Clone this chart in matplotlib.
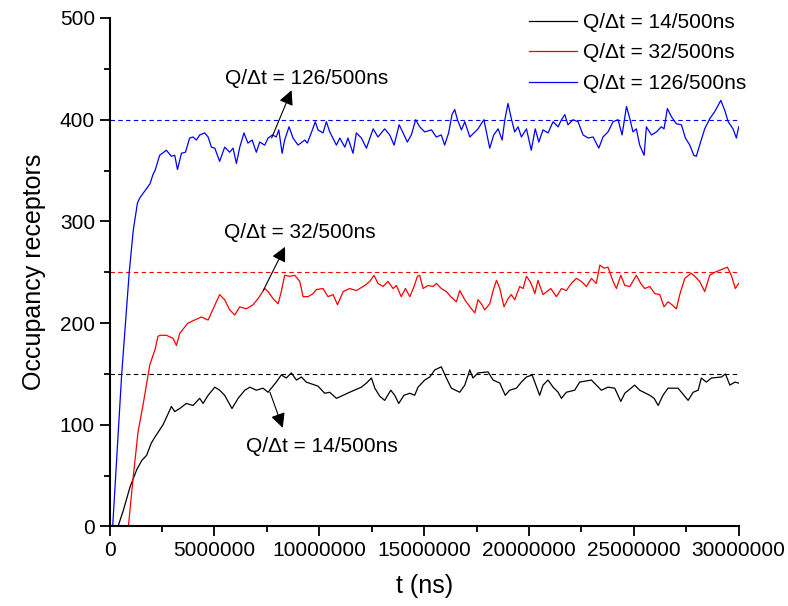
import matplotlib
matplotlib.use("Agg")
import matplotlib.pyplot as plt
from matplotlib.ticker import MultipleLocator, FuncFormatter
import numpy as np

# ---------------------------------------------------------
# Data (time in units of 1e6 ns)
# ---------------------------------------------------------
t_black = [0, 0.18, 0.42, 0.66, 0.98, 1.30, 1.54, 1.77, 1.99, 2.23, 2.55, 2.73, 2.95, 3.11, 3.35,
           3.66, 3.98, 4.30, 4.46, 4.70, 5.02, 5.25, 5.49, 5.84, 6.13, 6.45, 6.69, 7.00, 7.32, 7.56,
           7.95, 8.19, 8.43, 8.67, 8.91, 9.15, 9.38, 9.94, 10.26, 10.50, 10.82, 11.14, 11.45, 12.01,
           12.25, 12.49, 12.65, 12.89, 13.12, 13.41, 13.60, 13.79, 14.04, 14.32, 14.55, 14.71, 15.03,
           15.27, 15.51, 15.82, 16.06, 16.30, 16.70, 16.94, 17.18, 17.33, 17.57, 18.05, 18.29, 18.61,
           18.87, 19.08, 19.40, 19.64, 19.88, 20.15, 20.51, 20.67, 20.91, 21.15, 21.39, 21.55, 21.78,
           22.18, 22.42, 22.98, 23.45, 23.77, 24.09, 24.38, 24.57, 25.04, 25.28, 25.76, 25.97, 26.16,
           26.39, 26.63, 27.11, 27.59, 27.83, 28.07, 28.22, 28.46, 28.70, 29.18, 29.37, 29.58, 29.82,
           30.00]
n_black = [0, 0, 1, 16, 39, 56, 65, 70, 82, 90, 100, 108, 118, 113, 116,
           121, 119, 126, 121, 129, 137, 134, 129, 116, 126, 134, 137, 134, 136, 132,
           142, 149, 146, 151, 144, 147, 142, 138, 131, 132, 126, 129, 132, 137,
           141, 146, 136, 128, 124, 134, 129, 121, 129, 131, 129, 137, 144,
           147, 154, 157, 146, 136, 132, 139, 154, 146, 151, 152, 144, 141,
           129, 134, 136, 142, 147, 149, 129, 139, 144, 137, 132, 126, 132,
           134, 142, 144, 134, 137, 136, 123, 131, 139, 134, 129, 126, 119,
           129, 136, 136, 124, 132, 134, 146, 142, 146, 147, 150, 139, 142,
           141]

t_red = [0, 0.90, 1.13, 1.36, 1.61, 1.92, 2.17, 2.31, 2.41, 2.71, 3.03, 3.19, 3.35, 3.74, 4.06,
         4.38, 4.70, 4.94, 5.25, 5.49, 5.73, 5.97, 6.21, 6.52, 6.84, 7.08, 7.40, 7.56, 7.80, 8.04,
         8.19, 8.35, 8.59, 8.83, 9.07, 9.23, 9.47, 9.70, 9.86, 10.18, 10.42, 10.66, 10.87, 11.14,
         11.45, 11.77, 12.17, 12.41, 12.61, 12.80, 13.04, 13.28, 13.52, 13.68, 13.91, 14.11, 14.32,
         14.52, 14.68, 14.79, 14.95, 15.19, 15.43, 15.59, 15.82, 16.06, 16.27, 16.54, 16.70, 16.94,
         17.18, 17.42, 17.57, 17.73, 17.89, 18.13, 18.29, 18.45, 18.61, 18.81, 19.00, 19.16, 19.32,
         19.56, 19.72, 19.88, 20.05, 20.20, 20.28, 20.43, 20.67, 21.04, 21.31, 21.55, 21.78, 22.02,
         22.26, 22.50, 22.74, 22.98, 23.21, 23.38, 23.58, 23.77, 24.01, 24.17, 24.38, 24.57, 24.81,
         25.12, 25.33, 25.52, 25.76, 26.00, 26.24, 26.44, 26.63, 26.82, 27.03, 27.19, 27.43, 27.74,
         27.91, 28.14, 28.38, 28.62, 28.86, 29.10, 29.46, 29.65, 29.84, 30.00]
n_red = [0, 0, 49, 93, 121, 159, 174, 187, 188, 188, 185, 178, 190, 200, 203,
         206, 203, 214, 228, 223, 213, 208, 216, 214, 218, 224, 234, 231, 224, 219,
         231, 247, 246, 247, 241, 226, 226, 229, 233, 234, 226, 228, 218, 231,
         234, 232, 237, 241, 247, 239, 236, 241, 234, 237, 226, 234, 226,
         236, 246, 247, 234, 237, 236, 239, 234, 231, 226, 221, 232, 223,
         216, 210, 223, 219, 213, 219, 232, 242, 234, 216, 224, 228, 223,
         236, 234, 246, 241, 234, 229, 242, 228, 234, 226, 234, 232, 239,
         244, 241, 236, 244, 239, 257, 254, 255, 241, 234, 247, 237, 236,
         247, 239, 234, 236, 229, 228, 216, 221, 218, 214, 228, 244, 249,
         246, 241, 231, 247, 250, 252, 255, 247, 234, 239]

t_blue = [0, 0.15, 0.58, 0.94, 1.13, 1.33, 1.44, 1.93, 2.07, 2.17, 2.39, 2.71, 2.95, 3.11, 3.24,
          3.43, 3.62, 3.82, 3.98, 4.14, 4.30, 4.54, 4.70, 4.86, 5.02, 5.25, 5.49, 5.73, 5.89, 6.05,
          6.21, 6.41, 6.60, 6.80, 7.00, 7.16, 7.40, 7.56, 7.77, 7.95, 8.07, 8.23, 8.35, 8.56, 8.75,
          8.99, 9.31, 9.43, 9.62, 9.81, 9.94, 10.18, 10.34, 10.50, 10.82, 10.98, 11.22, 11.37, 11.61,
          11.77, 12.01, 12.25, 12.57, 12.80, 13.12, 13.36, 13.57, 13.81, 14.00, 14.20, 14.39, 14.60,
          14.79, 15.03, 15.35, 15.58, 15.82, 15.98, 16.17, 16.33, 16.46, 16.59, 16.78, 16.94, 17.18,
          17.42, 17.57, 17.85, 17.97, 18.13, 18.32, 18.53, 18.72, 18.85, 19.00, 19.16, 19.32, 19.48,
          19.64, 19.88, 20.11, 20.30, 20.47, 20.67, 20.91, 21.15, 21.39, 21.55, 21.71, 21.86, 22.10,
          22.34, 22.58, 22.82, 23.06, 23.33, 23.53, 23.77, 24.01, 24.25, 24.44, 24.65, 24.81, 24.96,
          25.12, 25.28, 25.49, 25.60, 25.84, 26.08, 26.31, 26.44, 26.60, 26.79, 27.03, 27.27, 27.46,
          27.67, 27.86, 27.98, 28.14, 28.38, 28.62, 28.86, 29.15, 29.34, 29.50, 29.73, 29.89, 30.00]
n_blue = [0, 0, 150, 250, 291, 318, 323, 337, 346, 350, 365, 370, 364, 365, 351,
          367, 368, 382, 383, 380, 385, 387, 383, 373, 372, 359, 373, 368, 372, 357,
          373, 387, 377, 380, 368, 378, 375, 382, 385, 383, 390, 367, 380, 393, 382,
          375, 380, 377, 387, 398, 390, 387, 398, 388, 375, 382, 373, 382, 367,
          387, 382, 372, 391, 383, 391, 385, 375, 395, 387, 378, 385, 400,
          393, 388, 390, 383, 385, 375, 387, 405, 410, 400, 390, 398, 383,
          388, 391, 400, 388, 372, 385, 391, 380, 400, 416, 401, 388, 393,
          383, 391, 370, 391, 378, 390, 387, 398, 393, 400, 405, 395, 400,
          398, 385, 382, 383, 372, 383, 388, 398, 400, 385, 413, 401, 388,
          391, 375, 365, 393, 385, 388, 393, 391, 411, 403, 396, 395, 382,
          375, 365, 364, 375, 391, 401, 408, 419, 409, 398, 391, 382, 393]

SERIES = [
    ("Q/\u0394t = 14/500ns", t_black, n_black, "black", 150),
    ("Q/\u0394t = 32/500ns", t_red, n_red, "#ff0000", 250),
    ("Q/\u0394t = 126/500ns", t_blue, n_blue, "#0000ff", 400),
]

plt.rcParams["font.family"] = ["Liberation Sans", "DejaVu Sans"]

fig = plt.figure(figsize=(7.88, 6.06), dpi=100)
ax = fig.add_axes([0.139, 0.1312, 0.7984, 0.8391])

for label, t, n, color, level in SERIES:
    ax.plot(np.array(t) * 1e6, n, color=color, lw=0.9, label=label)
    ax.plot([0, 30e6], [level, level], color=color, lw=0.8, ls=(0, (4, 3)))

ax.set_xlim(0, 30e6)
ax.set_ylim(0, 500)
ax.xaxis.set_major_locator(MultipleLocator(5e6))
ax.xaxis.set_minor_locator(MultipleLocator(2.5e6))
ax.yaxis.set_major_locator(MultipleLocator(100))
ax.yaxis.set_minor_locator(MultipleLocator(50))
ax.xaxis.set_major_formatter(FuncFormatter(lambda v, p: f"{int(round(v))}"))

for side in ("top", "right"):
    ax.spines[side].set_visible(False)
for side in ("left", "bottom"):
    ax.spines[side].set_linewidth(1.5)
    ax.spines[side].set_zorder(5)
ax.tick_params(which="major", direction="out", length=7, width=1.3, labelsize=15)
ax.tick_params(which="minor", direction="out", length=4, width=1.3)

ax.set_xlabel("t (ns)", fontsize=18, labelpad=10)
ax.set_ylabel("Occupancy receptors", fontsize=18, labelpad=10)

arrow = dict(arrowstyle="-|>", color="black", lw=0.8, mutation_scale=22,
             shrinkA=0, shrinkB=0)
ax.annotate("", xy=(8.68e6, 429), xytext=(7.73e6, 382), arrowprops=arrow)
ax.text(9.38e6, 441, "Q/\u0394t = 126/500ns", fontsize=15, ha="center", va="center")
ax.annotate("", xy=(8.37e6, 275), xytext=(7.33e6, 232), arrowprops=arrow)
ax.text(9.09e6, 289, "Q/\u0394t = 32/500ns", fontsize=15, ha="center", va="center")
ax.annotate("", xy=(8.26e6, 97), xytext=(7.65e6, 132), arrowprops=arrow)
ax.text(10.11e6, 79, "Q/\u0394t = 14/500ns", fontsize=15, ha="center", va="center")

ax.legend(loc="upper right", bbox_to_anchor=(1.012, 1.01), frameon=False, fontsize=15,
          handlelength=2.3, handletextpad=0.3, labelspacing=0.55, borderpad=0, borderaxespad=0)

fig.savefig("out.png", dpi=100)
